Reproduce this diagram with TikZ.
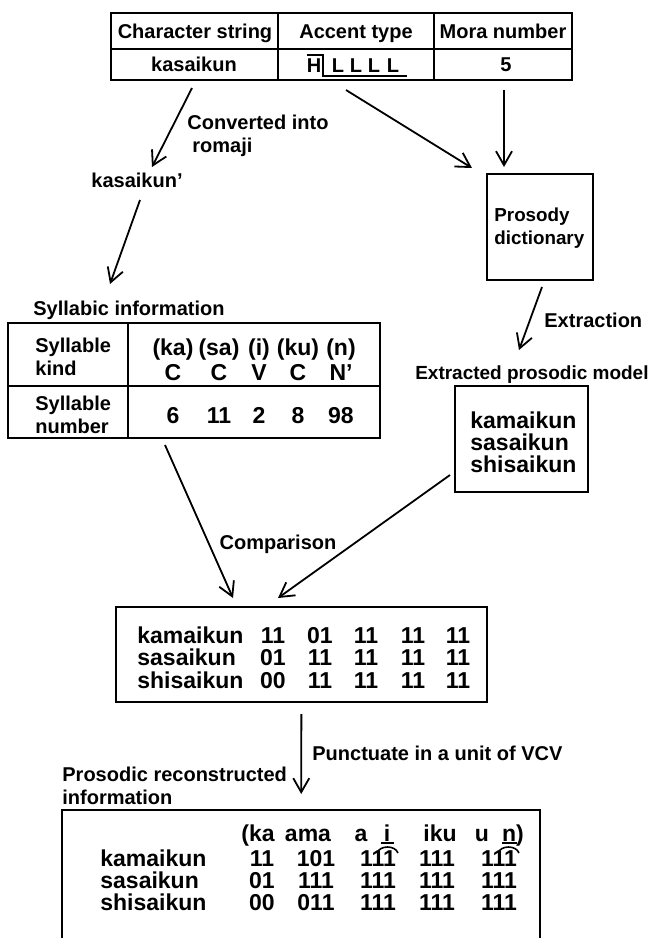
\documentclass[tikz,border=0pt]{standalone}
\usepackage{fontspec}
\setmainfont{Liberation Sans}
\usetikzlibrary{arrows.meta}
\tikzset{
  arr/.style={-{Straight Barb[length=7pt,width=8pt]}, line width=0.9pt},
  box/.style={draw, line width=1pt, inner sep=0pt},
  lines/.style={font=\fontsize{10}{11.5}\selectfont\bfseries, inner sep=0pt, align=left},
  lbl/.style={font=\fontsize{10}{11.5}\selectfont\bfseries, inner sep=0pt, text height=8.3pt, text depth=1.1pt},
  big/.style={font=\fontsize{11.5}{11}\selectfont\bfseries, inner sep=0pt, text height=9.5pt, text depth=1.2pt},
}
\begin{document}
\begin{tikzpicture}[x=0.5pt,y=-0.5pt]
\useasboundingbox (0,0) rectangle (652,938);
% input entry
\node[box, minimum width=230.5pt, minimum height=33.5pt] (entry) at (341.5,46.5) {};
\draw[line width=1pt] (111,49) -- (572,49) (278,13) -- (278,80) (434,13) -- (434,80);
\node[lbl] (hchar) at (195,31) {Character string};
\node[lbl] (hacc) at (356,31) {Accent type};
\node[lbl] (hmora) at (503,31) {Mora number};
\node[lbl] (word) at (194,64) {kasaikun};
\node[lbl] (mora) at (506,64) {5};
\node[lbl] (high) at (314,65) {H};
\foreach \x [count=\i] in {338,356,374,393}
  \node[lbl] (low\i) at (\x,65) {L};
\draw[line width=0.8pt] (307,55) -- (323,55) -- (323,76) -- (407,76);
% romaji
\node[lines, anchor=west] (conv) at (187,136) {Converted into\\\hspace{2.5pt}romaji};
\node[lbl] (kasa) at (137,180) {kasaikun’};
% prosody dictionary
\node[box, minimum width=53pt, minimum height=53pt] (dict) at (540,227) {};
\node[lines, anchor=west, font=\fontsize{9.4}{11.5}\selectfont\bfseries] (dtext) at (494,228) {Prosody\\dictionary};
\node[lbl, anchor=west] (extr) at (544,320) {Extraction};
% syllabic information
\node[lbl, anchor=west] (sylt) at (33,308) {Syllabic information};
\node[box, minimum width=186pt, minimum height=57.5pt] (syl) at (194,380.5) {};
\draw[line width=1pt] (128,323) -- (128,438) (8,386) -- (380,386);
\node[lines, anchor=west] (kind) at (35,357) {Syllable\\kind};
\node[lines, anchor=west] (numb) at (35,415) {Syllable\\number};
\foreach \x/\s/\k/\n [count=\i] in {173/{(ka)}/C/6, 219/{(sa)}/C/11, 259/{(i)}/V/2, 298/{(ku)}/C/8, 341/{(n)}/N’/98} {
  \node[big] (s\i) at (\x,347) {\s};
  \node[big] (k\i) at (\x,372) {\k};
  \node[big] (n\i) at (\x,415) {\n};
}
% extracted model
\node[lbl, anchor=east, font=\fontsize{9.5}{11.5}\selectfont\bfseries] (modt) at (649,372) {Extracted prosodic model};
\node[box, minimum width=66.5pt, minimum height=53pt] (model) at (521.5,439) {};
\node[lines, anchor=west, font=\fontsize{11.5}{11}\selectfont\bfseries] (mtext) at (470,442) {kamaikun\\sasaikun\\shisaikun};
% comparison
\node[lbl] (compl) at (278,542) {Comparison};
\node[box, minimum width=185.5pt, minimum height=47.5pt] (cmp) at (301.5,654.5) {};
\foreach \w/\y/\a/\b/\c/\d/\e in {kamaikun/635/11/01/11/11/11, sasaikun/657/01/11/11/11/11, shisaikun/680/00/11/11/11/11} {
  \node[big, anchor=west] (c-\w) at (137,\y) {\w};
  \foreach \v/\x [count=\k] in {\a/273,\b/320,\c/366,\d/413,\e/458}
    \node[big] (c-\w-\k) at (\x,\y) {\v};
}
% reconstructed information
\node[lbl, anchor=west] (punct) at (312,753) {Punctuate in a unit of VCV};
\node[lines, anchor=west] (rect) at (62,786) {Prosodic reconstructed\\information};
\node[box, minimum width=239pt, minimum height=95pt] (rec) at (301,905) {};
\foreach \t/\x [count=\k] in {{(ka}/258, ama/308, a/361, i/387, iku/440, u/482, {n)}/513}
  \node[big] (h\k) at (\x,833) {\t};
\foreach \w/\y/\a/\b/\c/\d/\e in {kamaikun/858/11/101/111/111/111, sasaikun/880/01/111/111/111/111, shisaikun/902/00/011/111/111/111} {
  \node[big, anchor=west] (r-\w) at (100,\y) {\w};
  \foreach \v/\x [count=\k] in {\a/262,\b/316,\c/378,\d/437,\e/499}
    \node[big] (r-\w-\k) at (\x,\y) {\v};
}
\draw[line width=0.8pt] (381,843) -- (394,843) (502,843) -- (517,843);
\draw[line width=0.8pt] (377,853) .. controls (380,845) and (395,845) .. (398,853);
\draw[line width=0.8pt] (498,853) .. controls (501,845) and (516,845) .. (519,853);
% connectors
\coordinate (e1) at (192,88);
\coordinate (e2) at (346,90);
\coordinate (e3) at (504,90);
\coordinate (d1) at (472,168);
\coordinate (d2) at (504,167);
\coordinate (k1) at (152,167);
\coordinate (k2) at (140,200);
\coordinate (y1) at (110,284);
\coordinate (y2) at (165,445);
\coordinate (x1) at (542,287);
\coordinate (x2) at (519,350);
\coordinate (m1) at (450,475);
\coordinate (p1) at (233,598);
\coordinate (p2) at (278,598);
\draw[arr] (e1) -- (k1);
\draw[arr] (e2) -- (d1);
\draw[arr] (e3) -- (d2);
\draw[arr] (k2) -- (y1);
\draw[arr] (x1) -- (x2);
\draw[arr] (y2) -- (p1);
\draw[arr] (m1) -- (p2);
\draw[arr, shorten <=5.5pt, shorten >=7.5pt] (cmp) -- (rec);
\end{tikzpicture}
\end{document}
